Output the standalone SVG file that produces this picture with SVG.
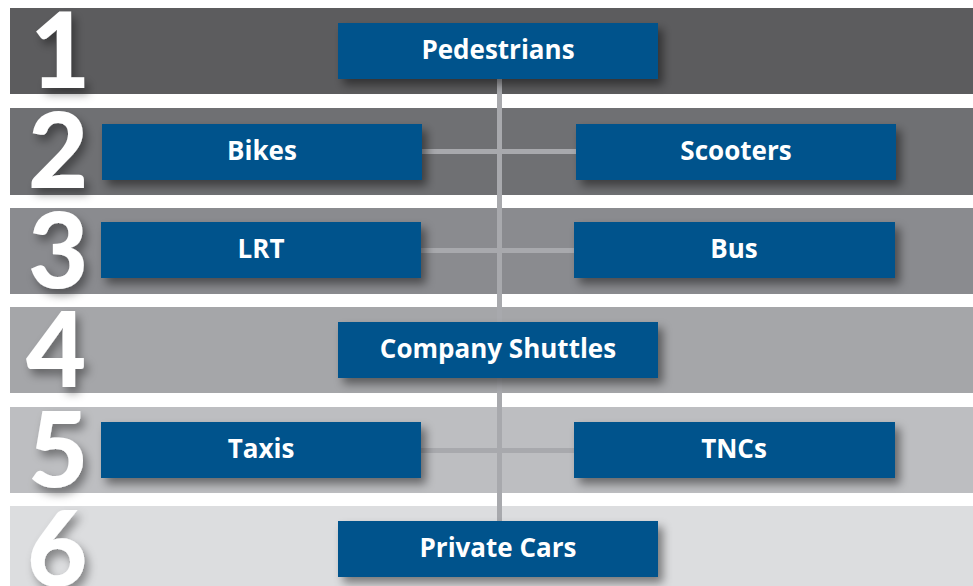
<svg xmlns="http://www.w3.org/2000/svg" width="973" height="586" viewBox="0 0 973 586">
<defs>
<filter id="bs" x="-10%" y="-30%" width="130%" height="180%"><feDropShadow dx="5" dy="6" stdDeviation="5" flood-color="#000" flood-opacity="0.45"/></filter>
<filter id="ns" x="-30%" y="-20%" width="180%" height="150%"><feDropShadow dx="4" dy="6" stdDeviation="5" flood-color="#000" flood-opacity="0.4"/></filter>
</defs>
<style>
.num{font-family:Lato,"Open Sans",sans-serif;font-weight:900;font-size:104px;fill:#fff;filter:url(#ns)}
.box{fill:#03528c;filter:url(#bs)}
.lbl{font-family:"Open Sans",Lato,sans-serif;font-weight:700;font-size:26px;fill:#fff;text-anchor:middle}
.ln{stroke:#a8a9ad;fill:none}
</style>
<rect width="973" height="586" fill="#fff"/>
<g id="bands">
<rect x="10" y="8" width="963" height="86" fill="#5c5c5e"/>
<rect x="10" y="108" width="963" height="87" fill="#6f7073"/>
<rect x="10" y="208" width="963" height="86" fill="#8a8b8f"/>
<rect x="10" y="307" width="963" height="86" fill="#a5a6a9"/>
<rect x="10" y="407" width="963" height="86" fill="#bdbec1"/>
<rect x="10" y="506" width="963" height="80" fill="#dcdddf"/>
</g>
<g id="numbers">
<text class="num" x="30" y="88">1</text>
<text class="num" x="28" y="188">2</text>
<text class="num" x="28" y="288">3</text>
<text class="num" x="26" y="387">4</text>
<text class="num" x="28" y="487">5</text>
<text class="num" x="27" y="586">6</text>
</g>
<g id="connectors">
<line class="ln" x1="499.5" y1="79" x2="499.5" y2="521" stroke-width="5"/>
<line class="ln" x1="422" y1="151.5" x2="576" y2="151.5" stroke-width="5"/>
<line class="ln" x1="421" y1="250.5" x2="574" y2="250.5" stroke-width="5"/>
<line class="ln" x1="421" y1="450.5" x2="574" y2="450.5" stroke-width="5"/>
</g>
<g id="pedestrians"><rect class="box" x="338" y="23" width="320" height="56"/><text class="lbl" x="498" y="59">Pedestrians</text></g>
<g id="bikes"><rect class="box" x="102" y="124" width="320" height="56"/><text class="lbl" x="262" y="160">Bikes</text></g>
<g id="scooters"><rect class="box" x="576" y="124" width="320" height="56"/><text class="lbl" x="736" y="160">Scooters</text></g>
<g id="lrt"><rect class="box" x="101" y="222" width="320" height="56"/><text class="lbl" x="261" y="258">LRT</text></g>
<g id="bus"><rect class="box" x="574" y="222" width="321" height="56"/><text class="lbl" x="734" y="258">Bus</text></g>
<g id="company-shuttles"><rect class="box" x="338" y="322" width="320" height="56"/><text class="lbl" x="498" y="358">Company Shuttles</text></g>
<g id="taxis"><rect class="box" x="101" y="422" width="320" height="56"/><text class="lbl" x="261" y="458">Taxis</text></g>
<g id="tncs"><rect class="box" x="574" y="422" width="321" height="56"/><text class="lbl" x="734" y="458">TNCs</text></g>
<g id="private-cars"><rect class="box" x="338" y="521" width="320" height="56"/><text class="lbl" x="498" y="557">Private Cars</text></g>
</svg>
